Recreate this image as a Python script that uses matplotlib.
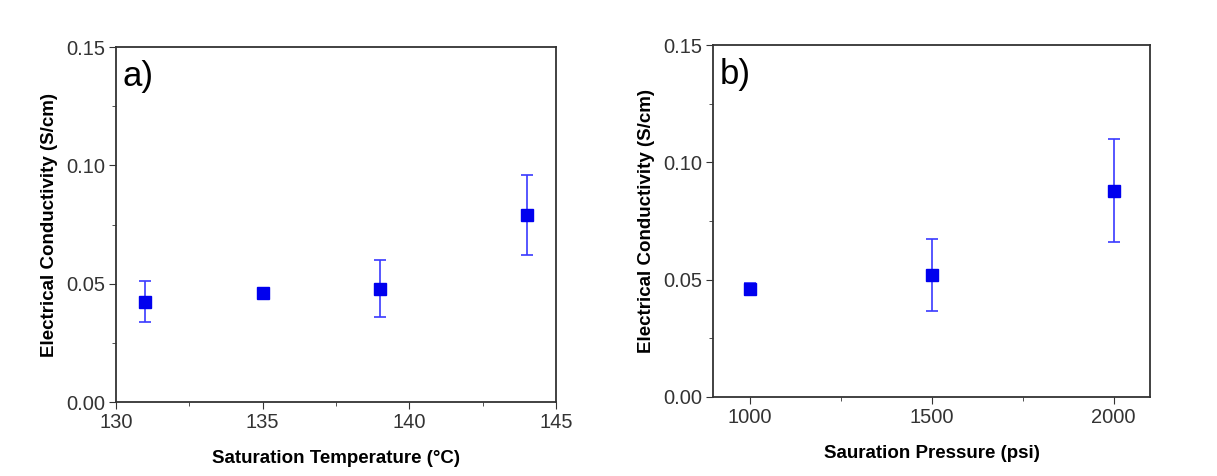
import matplotlib
matplotlib.use("Agg")
import matplotlib.pyplot as plt
from matplotlib.ticker import MultipleLocator

plt.rcParams['font.family'] = ['Liberation Sans', 'DejaVu Sans']

temps = [131, 135, 139, 144]
cond_temp = [0.0425, 0.046, 0.048, 0.079]
err_temp = [0.0085, 0.0015, 0.012, 0.017]

pressures = [1000, 1500, 2000]
cond_pres = [0.046, 0.052, 0.088]
err_pres = [0.0025, 0.0155, 0.022]

fig = plt.figure(figsize=(12.17, 4.76), dpi=100)
ax1 = fig.add_axes([0.0953, 0.155, 0.3615, 0.746])
ax2 = fig.add_axes([0.586, 0.166, 0.359, 0.739])

def style(ax, xlabel, tag):
    ax.set_ylim(0, 0.15)
    ax.yaxis.set_major_locator(MultipleLocator(0.05))
    ax.yaxis.set_minor_locator(MultipleLocator(0.025))
    ax.yaxis.set_major_formatter(plt.FormatStrFormatter('%.2f'))
    ax.tick_params(which='both', direction='out', top=False, right=False,
                   labelsize=14.5, color='#333333', labelcolor='#333333', pad=3)
    ax.tick_params(which='major', length=5)
    ax.tick_params(which='minor', length=3)
    for s in ax.spines.values():
        s.set_linewidth(1.3)
        s.set_color('#333333')
    ax.set_ylabel("Electrical Conductivity (S/cm)", fontsize=13.5, fontweight='bold', labelpad=6)
    ax.set_xlabel(xlabel, fontsize=13.5, fontweight='bold', labelpad=13)
    ax.text(0.014, 0.965, tag, transform=ax.transAxes, fontsize=25, va='top', ha='left')

ax1.errorbar(temps, cond_temp, yerr=err_temp, fmt='s', color='#0000ee', ms=8,
             ecolor='#3a3aff', elinewidth=1.2, capsize=4, capthick=1.2)
ax1.set_xlim(130, 145)
ax1.xaxis.set_major_locator(MultipleLocator(5))
ax1.xaxis.set_minor_locator(MultipleLocator(2.5))
style(ax1, "Saturation Temperature (°C)", "a)")

ax2.errorbar(pressures, cond_pres, yerr=err_pres, fmt='s', color='#0000ee', ms=8,
             ecolor='#3a3aff', elinewidth=1.2, capsize=4, capthick=1.2)
ax2.set_xlim(900, 2100)
ax2.xaxis.set_major_locator(MultipleLocator(500))
ax2.xaxis.set_minor_locator(MultipleLocator(250))
style(ax2, "Sauration Pressure (psi)", "b)")

fig.savefig("out.png", dpi=100)
